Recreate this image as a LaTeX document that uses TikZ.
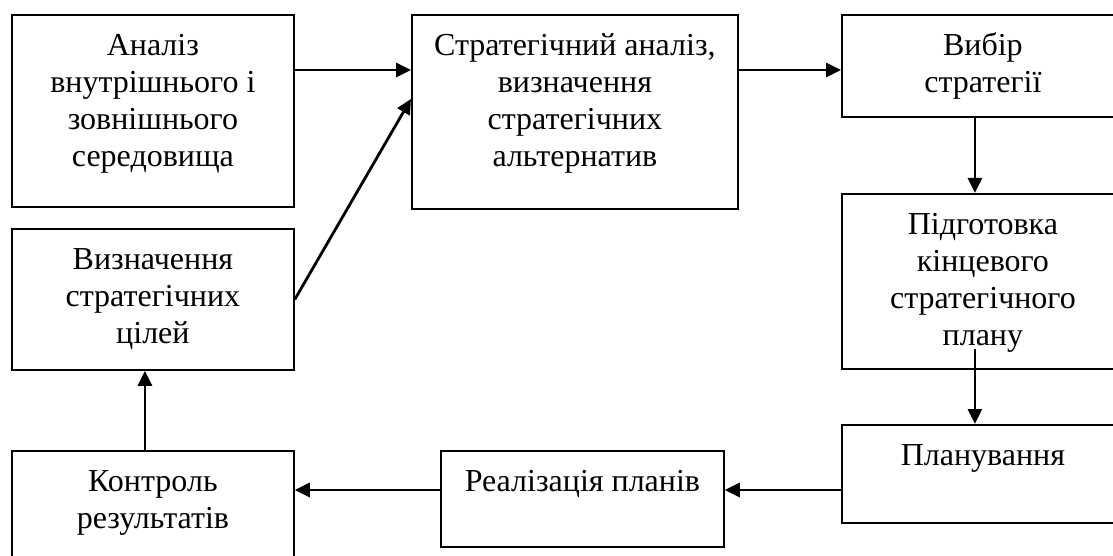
\documentclass[tikz,border=0pt]{standalone}
\usepackage{fontspec}
\setmainfont{Liberation Serif}
\usetikzlibrary{arrows.meta,calc}
% box contents: fixed-size top-aligned paragraph, centred lines
\newcommand\boxbody[3]{\parbox[c][#2][t]{#1}{\centering\vspace*{15pt}\strut#3\par}}
\tikzset{
  box/.style={draw, line width=1.8pt, inner sep=0pt, anchor=north west,
    font=\fontsize{32pt}{36.8pt}\selectfont},
  arr/.style={line width=2.8pt, -{Triangle[length=15pt,width=14pt]}}
}
\begin{document}
\begin{tikzpicture}[x=1pt,y=-1pt]
\useasboundingbox (0,0) rectangle (1113,556);
\clip (0,0) rectangle (1113,556);

\node[box] (A) at (11,14)  {\boxbody{282pt}{192pt}{Аналіз\\внутрішнього і\\зовнішнього\\середовища}};
\node[box] (B) at (411,14) {\boxbody{326pt}{194pt}{Стратегічний аналіз,\\визначення\\стратегічних\\альтернатив}};
\node[box] (C) at (841,14) {\boxbody{282pt}{102pt}{Вибір\\стратегії}};
\node[box] (D) at (841,193) {\boxbody{282pt}{175pt}{Підготовка\\кінцевого\\стратегічного\\плану}};
\node[box] (E) at (841,424) {\boxbody{282pt}{98pt}{Планування}};
\node[box] (F) at (11,228) {\boxbody{282pt}{141pt}{Визначення\\стратегічних\\цілей}};
\node[box] (G) at (11,450) {\boxbody{282pt}{120pt}{Контроль\\результатів}};
\node[box] (H) at (440,450) {\boxbody{283pt}{96pt}{Реалізація планів}};

% connectors
\draw[arr] ($(A.north east)+(0,56)$) -- ($(B.north west)+(0,56)$);
\draw[arr] (F.east) -- ($(B.west)+(0,-13)$);
\draw[arr] ($(B.north east)+(0,56)$) -- ($(C.north west)+(0,56)$);
\draw[arr] ($(C.south)+(-8,0)$) -- ($(D.north)+(-8,0)$);
\coordinate (Dout) at ($(D.south)+(-8,-21)$);
\draw[arr] (Dout) -- ($(E.north)+(-8,0)$);
\draw[arr] ($(E.north west)+(0,66)$) -- ($(H.north east)+(0,40)$);
\draw[arr] ($(H.north west)+(0,40)$) -- ($(G.north east)+(0,40)$);
\draw[arr] ($(G.north)+(-8,0)$) -- ($(F.south)+(-8,0)$);
\end{tikzpicture}
\end{document}
